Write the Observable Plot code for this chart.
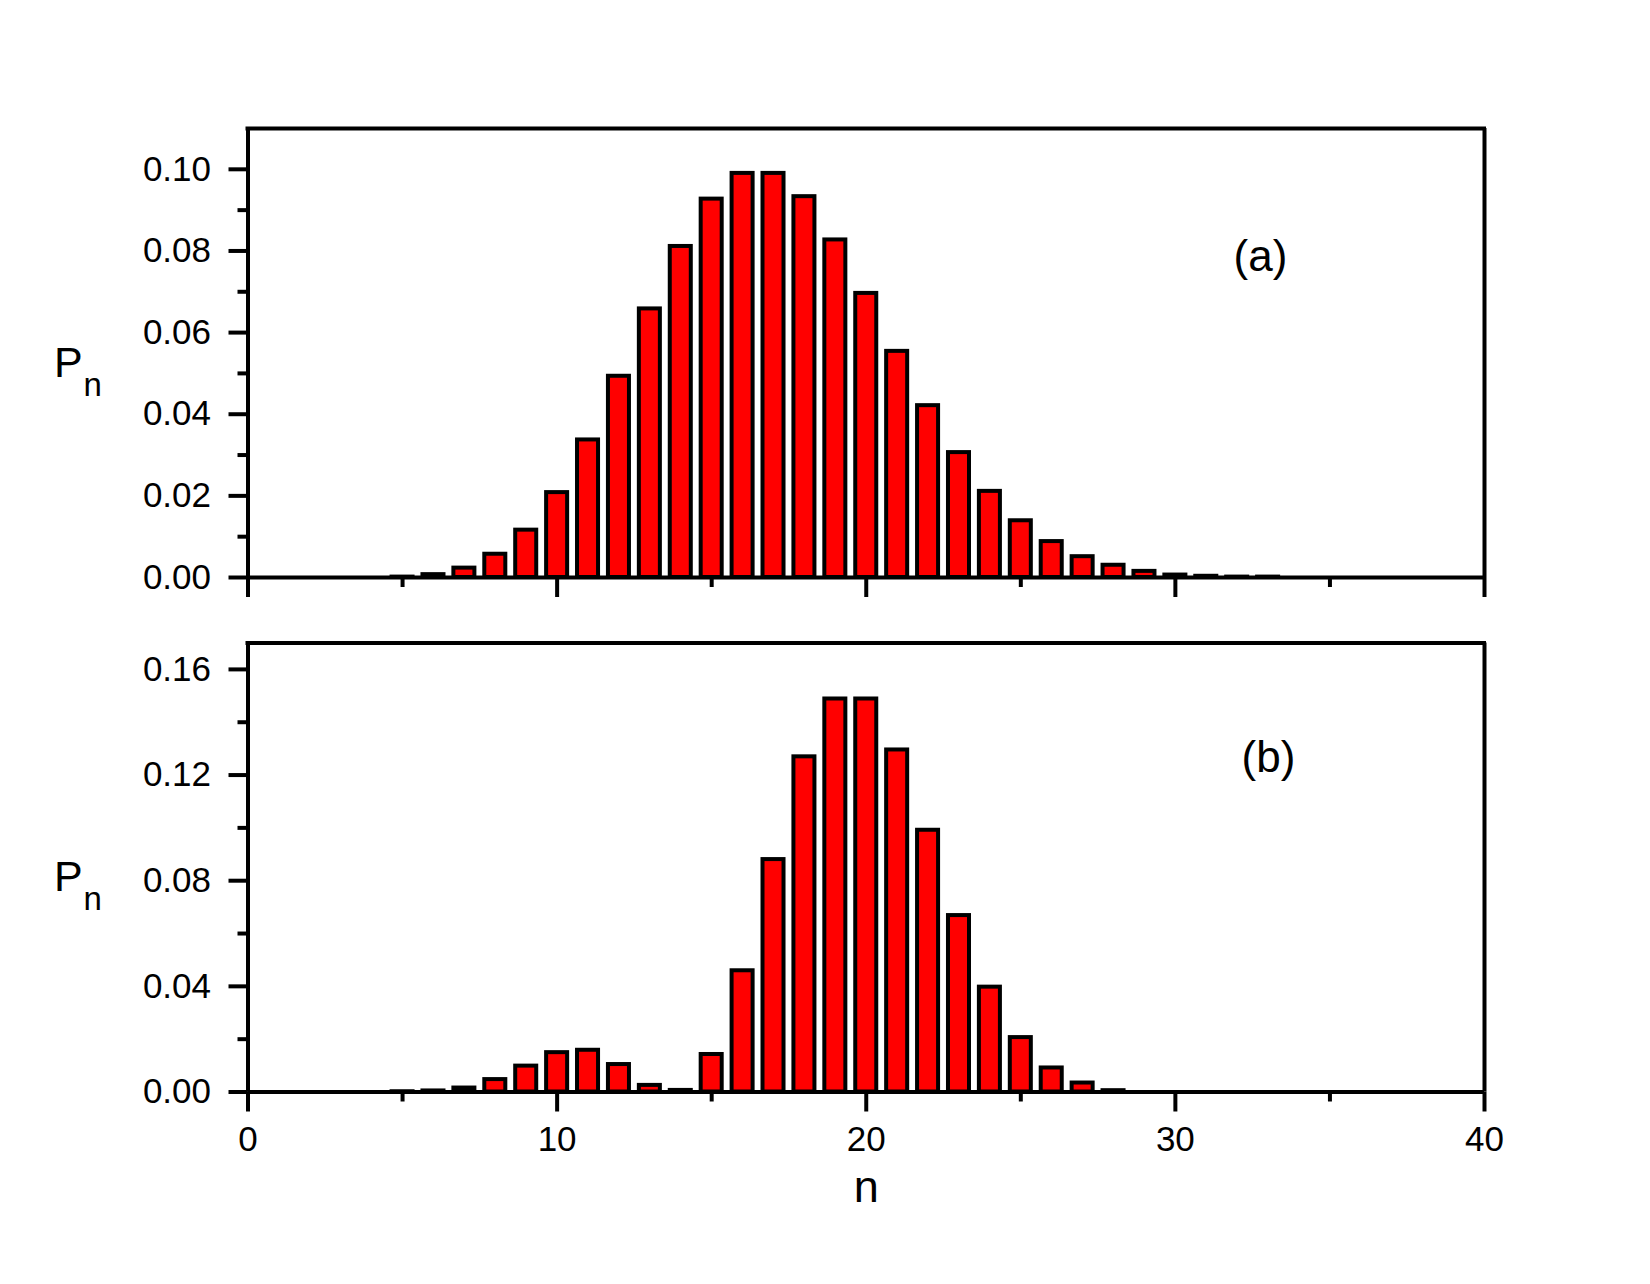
<!DOCTYPE html>
<html>
<head>
<meta charset="utf-8">
<script src="https://cdn.jsdelivr.net/npm/d3@7"></script>
<script src="https://cdn.jsdelivr.net/npm/@observablehq/plot@0.6"></script>
<style>
  html, body { margin: 0; padding: 0; background: #fff; overflow: hidden; }
  svg { display: block; }
</style>
</head>
<body>
<div id="chart"></div>
<script>
// ---- data ----
const nA = [5,6,7,8,9,10,11,12,13,14,15,16,17,18,19,20,21,22,23,24,25,26,27,28,29,30,31,32,33];
const pA = [0.0001,0.0007,0.0023,0.0057,0.0116,0.0208,0.0337,0.0493,0.0658,0.0811,0.0927,0.0990,0.0990,0.0933,0.0827,0.0696,0.0554,0.0421,0.0306,0.0211,0.0139,0.0088,0.0051,0.0030,0.0015,0.0006,0.0003,0.0001,0.0001];

const nB = [5,6,7,8,9,10,11,12,13,14,15,16,17,18,19,20,21,22,23,24,25,26,27,28];
const pB = [0.0001,0.0004,0.0015,0.0047,0.0098,0.0149,0.0158,0.0104,0.0025,0.0006,0.0142,0.0459,0.0880,0.1269,0.1488,0.1488,0.1295,0.0991,0.0668,0.0397,0.0206,0.0091,0.0034,0.0005];

const xMajor = [0,10,20,30,40];
const xMinor = [5,15,25,35];
const yMajorA = [0,0.02,0.04,0.06,0.08,0.10];
const yMinorA = [0.01,0.03,0.05,0.07,0.09];
const yMajorB = [0,0.04,0.08,0.12,0.16];
const yMinorB = [0.02,0.06,0.10,0.14];
const panelLabels = ["(a)", "(b)"];
const yLabelMain = "P";
const yLabelSub = "n";
const xLabel = "n";

const dataA = nA.map((n, i) => ({n, p: pA[i]}));
const dataB = nB.map((n, i) => ({n, p: pB[i]}));

const FONT = "'Liberation Sans', Arial, Helvetica, sans-serif";
const LW = 4;
const HALF = 0.34;

function panel({data, yMax, yMajor, yMinor, label, labelDx, labelDy, height, marginTop, marginBottom, showXLabels}) {
  const marks = [
    Plot.rectY(data, {x1: d => d.n - HALF, x2: d => d.n + HALF, y: "p", fill: "#ff0000", stroke: "black", strokeWidth: LW}),
    Plot.ruleY([0], {stroke: "black", strokeWidth: LW}),
    Plot.ruleY([yMax], {stroke: "black", strokeWidth: LW, strokeLinecap: "square"}),
    Plot.ruleX([0, 40], {stroke: "black", strokeWidth: LW}),
    Plot.axisX({ticks: xMajor, tickSize: 20, tickPadding: 14, strokeWidth: LW, fontSize: 35,
      tickFormat: showXLabels ? d3.format("d") : () => "", label: null}),
    Plot.axisX({ticks: xMinor, tickSize: 10, strokeWidth: LW, tickFormat: () => "", label: null}),
    Plot.axisY({ticks: yMajor, tickSize: 19, tickPadding: 18, strokeWidth: LW, fontSize: 35,
      tickFormat: d3.format(".2f"), label: null}),
    Plot.axisY({ticks: yMinor, tickSize: 10, strokeWidth: LW, tickFormat: () => "", label: null}),
    Plot.text([label], {frameAnchor: "top-right", text: d => d, dx: labelDx, dy: labelDy, fontSize: 44, textAnchor: "middle", fill: "black"}),
    Plot.text([yLabelMain], {frameAnchor: "left", text: d => d, dx: -194, dy: 10, fontSize: 43, textAnchor: "start", fill: "black"}),
    Plot.text([yLabelSub], {frameAnchor: "left", text: d => d, dx: -164.5, dy: 32, fontSize: 33, textAnchor: "start", fill: "black"})
  ];
  if (showXLabels) {
    marks.push(Plot.text([xLabel], {x: 20, frameAnchor: "bottom", text: d => d, dy: 110, fontSize: 45, textAnchor: "middle", fill: "black"}));
  }
  return Plot.plot({
    width: 1650,
    height,
    marginLeft: 247.5,
    marginRight: 166,
    marginTop,
    marginBottom,
    x: {domain: [0, 40]},
    y: {domain: [0, yMax]},
    style: {fontFamily: FONT, color: "black", background: "white", overflow: "visible"},
    marks
  });
}

const plotTop = panel({data: dataA, yMax: 0.11, yMajor: yMajorA, yMinor: yMinorA, label: panelLabels[0],
  labelDx: -224, labelDy: 111, height: 620, marginTop: 128, marginBottom: 43, showXLabels: false});
const plotBottom = panel({data: dataB, yMax: 0.17, yMajor: yMajorB, yMinor: yMinorB, label: panelLabels[1],
  labelDx: -216, labelDy: 98, height: 664, marginTop: 22.5, marginBottom: 192.5, showXLabels: true});

const chart = document.getElementById("chart");
chart.appendChild(plotTop);
chart.appendChild(plotBottom);
</script>
</body>
</html>
